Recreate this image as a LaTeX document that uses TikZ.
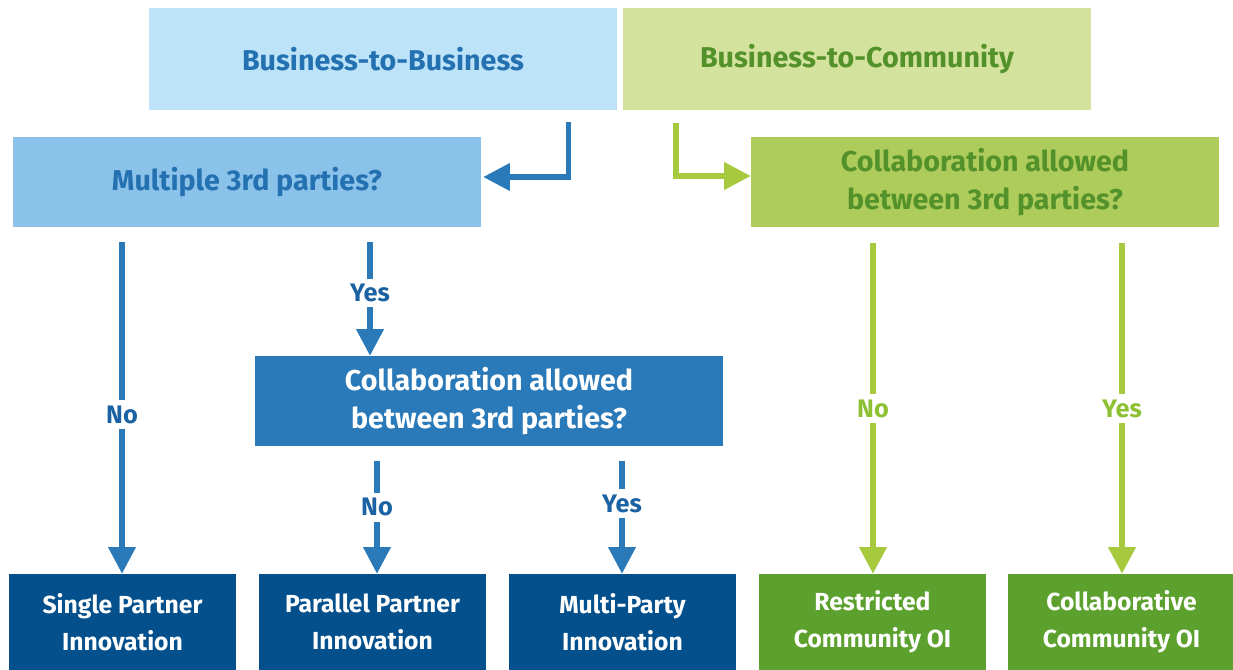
\documentclass[tikz,border=0pt]{standalone}
\usepackage{fontspec}
\setmainfont{Fira Sans}
\usetikzlibrary{arrows.meta}
\definecolor{lightblue}{HTML}{BDE3F9}
\definecolor{midblue}{HTML}{8BC2EA}
\definecolor{blue}{HTML}{2A7AB9}
\definecolor{darkblue}{HTML}{04508C}
\definecolor{bluetext}{HTML}{2471B1}
\definecolor{bluelabel}{HTML}{1A62A2}
\definecolor{lightgreen}{HTML}{D3E29C}
\definecolor{midgreen}{HTML}{AECC5B}
\definecolor{green}{HTML}{A6C93E}
\definecolor{darkgreen}{HTML}{5CA02E}
\definecolor{greentext}{HTML}{53912A}
\definecolor{greenlabel}{HTML}{8DC133}
\begin{document}
\begin{tikzpicture}[x=0.75pt,y=-0.75pt,
    box/.style={inner sep=0pt,align=center,font=\fontsize{21.5}{28.5}\selectfont\bfseries},
    bigbox/.style={box,minimum width=351pt,minimum height=67.5pt},
    leafbox/.style={box,minimum width=170pt,minimum height=72pt,text=white,
      font=\fontsize{18.5}{28}\selectfont\bfseries},
    barrow/.style={draw=blue,line width=3.8pt,-{Triangle[width=20pt,length=20pt]}},
    garrow/.style={draw=green,line width=3.8pt,-{Triangle[width=20pt,length=20pt]}},
    blabel/.style={fill=white,text=bluelabel,inner sep=4pt,font=\fontsize{19}{19}\selectfont\bfseries},
    glabel/.style={fill=white,text=greenlabel,inner sep=4pt,font=\fontsize{19}{19}\selectfont\bfseries}]

  \useasboundingbox (0,0) rectangle (1233,670);

  % top row
  \node[bigbox,minimum height=76.5pt,fill=lightblue,text=bluetext] (b2b) at (383,59) {Business-to-Business};
  \node[bigbox,minimum height=76.5pt,fill=lightgreen,text=greentext] (b2c) at (857,59) {Business-to-Community};

  % questions
  \node[bigbox,fill=midblue,text=bluetext] (multi) at (247,182) {Multiple 3rd parties?};
  \node[bigbox,fill=midgreen,text=greentext] (gcollab) at (985,182) {Collaboration allowed\\between 3rd parties?};
  \node[bigbox,fill=blue,text=white] (bcollab) at (489,401) {Collaboration allowed\\between 3rd parties?};

  % outcomes
  \node[leafbox,fill=darkblue] (single) at (122.5,622) {Single Partner\\Innovation};
  \node[leafbox,fill=darkblue] (parallel) at (372.5,622) {Parallel Partner\\Innovation};
  \node[leafbox,fill=darkblue] (multiparty) at (622.5,622) {Multi-Party\\Innovation};
  \node[leafbox,fill=darkgreen] (restricted) at (872.5,622) {Restricted\\Community OI};
  \node[leafbox,fill=darkgreen] (collab) at (1121.5,622) {Collaborative\\Community OI};

  \draw[barrow] ([xshift=139pt,yshift=-9pt]b2b.south) |- ([xshift=1.5pt,yshift=3.75pt]multi.east);
  \draw[garrow] ([xshift=-135.75pt,yshift=-9.75pt]b2c.south) |- ([yshift=4.5pt]gcollab.west);

  \draw[barrow] ([xshift=-93.75pt,yshift=-11pt]multi.south) -- (single.north -| 122,0)
    node[blabel,pos=0.52] {No};
  \draw[barrow] ([xshift=92.25pt,yshift=-11pt]multi.south) -- (bcollab.north -| 370,0)
    node[blabel,pos=0.45] {Yes};
  \draw[barrow] ([xshift=-84pt,yshift=-11pt]bcollab.south) -- (parallel.north -| 377,0)
    node[blabel,pos=0.41] {No};
  \draw[barrow] ([xshift=99.75pt,yshift=-11pt]bcollab.south) -- (multiparty.north -| 622,0)
    node[blabel,pos=0.38] {Yes};
  \draw[garrow] ([xshift=-84pt,yshift=-12pt]gcollab.south) -- (restricted.north -| 873,0)
    node[glabel,pos=0.5] {No};
  \draw[garrow] ([xshift=102.75pt,yshift=-12pt]gcollab.south) -- (collab.north -| 1122,0)
    node[glabel,pos=0.5] {Yes};
\end{tikzpicture}
\end{document}
